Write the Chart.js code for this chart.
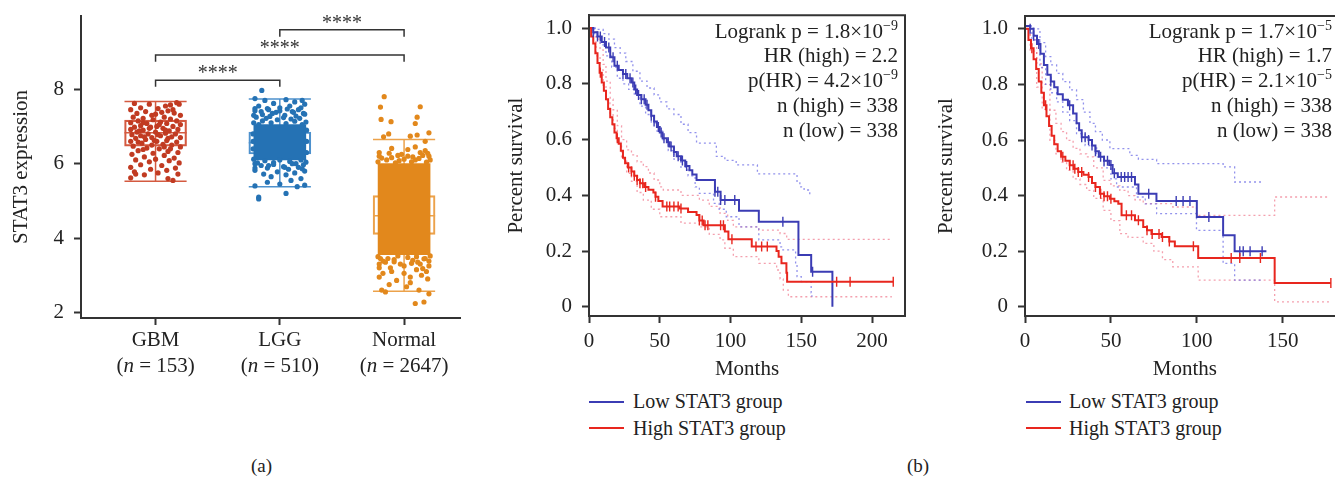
<!DOCTYPE html>
<html>
<head>
<meta charset="utf-8">
<script src="https://cdn.jsdelivr.net/npm/chart.js@4"></script>
<style>
html,body{margin:0;padding:0;background:#fff;overflow:hidden;width:1335px;height:477px;}
body{position:relative;font-family:"Liberation Serif",serif;color:#222;}
canvas{position:absolute;top:0;}
.legline{position:absolute;width:35px;height:2px;}
.legtxt{position:absolute;font-size:20px;line-height:20px;white-space:nowrap;}
.cap{position:absolute;font-size:19px;line-height:19px;}
</style>
</head>
<body>
<canvas id="boxChart" width="470" height="390" style="left:0px"></canvas>
<canvas id="kmChart1" width="420" height="385" style="left:500px"></canvas>
<canvas id="kmChart2" width="421" height="385" style="left:930px"></canvas>

<div class="legline" style="left:589px;top:401px;background:#3b3cb4"></div>
<div class="legtxt" style="left:633px;top:391px">Low STAT3 group</div>
<div class="legline" style="left:589px;top:427px;background:#e8261e"></div>
<div class="legtxt" style="left:633px;top:418px">High STAT3 group</div>
<div class="legline" style="left:1026px;top:401px;background:#3b3cb4"></div>
<div class="legtxt" style="left:1069px;top:391px">Low STAT3 group</div>
<div class="legline" style="left:1026px;top:427px;background:#e8261e"></div>
<div class="legtxt" style="left:1069px;top:418px">High STAT3 group</div>
<div class="cap" style="left:251px;top:456px">(a)</div>
<div class="cap" style="left:907px;top:456px">(b)</div>

<script>
// ---- panel (a): STAT3 expression by group ----
const groups = ['GBM', 'LGG', 'Normal'];
const groupN = [153, 510, 2647];
const groupColors = ['#c13b22', '#2572b4', '#e2881c'];
const boxColors = ['#d45a40', '#4d91cd', '#eca24b'];
const q1 = [6.47, 6.26, 4.10];
const med = [6.83, 6.56, 4.60];
const q3 = [7.17, 6.85, 5.14];
const whiskLow = [5.53, 5.38, 2.57];
const whiskHigh = [7.67, 7.74, 6.65];
// zone where the jittered points merge into a solid blob
const denseLow = [null, 6.1, 3.55];
const denseHigh = [null, 7.05, 6.0];
const yTicksA = [2, 4, 6, 8];

// [offset from category, value]
const gbmPoints = [[-0.17,7.62],[-0.05,7.6],[0.12,7.58],[0.17,7.64],[0.19,7.6],[0.08,7.55],[-0.12,7.5],[0.02,7.48],[0.14,7.45],[-0.2,7.45],[0.1,7.42],[-0.08,7.4],[0.05,7.38],[0.15,7.36],[-0.15,7.35],[0.0,7.33],[0.2,7.3],[-0.03,7.3],
 [-0.18,7.25],[-0.1,7.22],[0.07,7.25],[0.12,7.2],[-0.14,7.15],[-0.02,7.18],[0.17,7.15],[0.04,7.12],[-0.2,7.1],[-0.07,7.08],[0.09,7.08],[0.2,7.05],[-0.12,7.02],[0.01,7.0],[0.14,7.0],[-0.17,6.98],
 [-0.05,6.95],[0.06,6.95],[-0.2,6.92],[0.18,6.92],[-0.1,6.9],[0.11,6.88],[-0.15,6.85],[0.0,6.85],[0.08,6.82],[-0.06,6.8],[0.16,6.8],[-0.19,6.78],[-0.12,6.75],[0.04,6.75],[0.13,6.72],[-0.03,6.7],[0.2,6.7],
 [-0.16,6.68],[-0.08,6.65],[0.09,6.62],[-0.2,6.6],[0.01,6.6],[0.17,6.58],[-0.11,6.55],[0.06,6.52],[-0.03,6.5],[0.13,6.5],[-0.18,6.47],[0.2,6.45],[-0.07,6.42],[0.03,6.4],
 [-0.14,6.35],[0.1,6.33],[0.18,6.3],[-0.02,6.28],[-0.19,6.25],[0.07,6.22],[-0.09,6.18],[0.15,6.15],[0.0,6.12],[-0.16,6.1],[0.11,6.08],[-0.05,6.05],[0.19,6.02],
 [-0.12,5.97],[0.05,5.95],[-0.2,5.9],[0.16,5.88],[-0.04,5.85],[0.09,5.82],[-0.17,5.78],[0.02,5.75],[0.18,5.72],[-0.09,5.7],[-0.2,5.62],[0.1,5.6],[-0.16,5.72],[0.14,5.55],
 [-0.1,7.1],[0.03,7.05],[-0.04,6.98],[0.08,6.9],[-0.13,6.88],[0.02,6.78],[-0.09,6.72],[0.1,6.68],[-0.01,6.62],[-0.14,6.58],[0.07,6.45],[-0.1,6.38],[0.12,6.4]];
const lggPoints = [[-0.145,7.97],[-0.2,7.75],[-0.12,7.7],[0.05,7.72],[0.18,7.7],[0.12,7.66],[-0.05,7.62],[0.2,7.6],[-0.17,7.55],[0.08,7.55],[0.0,7.5],[-0.1,7.48],[0.15,7.45],[-0.2,7.42],[0.1,7.4],[-0.03,7.38],[0.19,7.35],[-0.14,7.32],[0.04,7.3],[-0.21,7.3],[0.13,7.28],[-0.08,7.27],
 [-0.2,7.48],[-0.09,7.45],[0.06,7.47],[0.17,7.5],[-0.15,7.4],[0.0,7.42],[0.11,7.38],[-0.06,7.35],[0.2,7.33],[-0.19,7.25],[-0.11,7.22],[0.03,7.24],[0.09,7.2],[0.16,7.22],[-0.02,7.18],[-0.14,7.15],[0.12,7.14],[0.21,7.12],[-0.21,7.1],[-0.07,7.1],[0.05,7.08],[0.18,7.05],[-0.17,7.05],
 [-0.21,6.12],[-0.12,6.08],[0.0,6.1],[0.08,6.06],[0.17,6.1],[0.21,6.04],[-0.18,6.02],[-0.05,6.03],[0.13,6.0],[-0.09,5.95],[0.04,5.9],[-0.2,5.88],[0.18,5.86],
 [-0.215,6.8],[-0.215,6.4],[0.215,6.6],[0.215,6.3],[0.215,6.9],[-0.215,6.6],
 [-0.2,6.0],[0.1,6.0],[-0.05,5.98],[0.19,5.97],[-0.15,5.95],[0.03,5.92],[0.15,5.9],[-0.1,5.88],[0.07,5.85],[-0.2,5.82],[0.2,5.8],[-0.02,5.78],[0.12,5.75],[-0.13,5.72],[0.05,5.7],[-0.07,5.65],[0.17,5.6],[0.09,5.55],[-0.1,5.5],[0.0,5.45],[0.2,5.42],[-0.2,5.4],[0.14,5.38],[-0.17,5.1],[-0.17,5.05],[0.05,5.2]];
const normalPoints = [[-0.16,7.8],[-0.19,7.52],[0.13,7.53],[-0.185,7.19],[-0.105,7.13],[0.09,7.08],[0.105,7.25],[0.2,6.83],[-0.165,6.72],[-0.124,6.8],[0.05,6.74],[0.105,6.77],[0.17,6.6],[-0.1,6.41],[0.03,6.38],[0.09,6.45],[0.17,6.35],[-0.2,6.2],[-0.02,6.25],[0.2,6.2],[-0.12,6.28],[0.13,6.3],[-0.05,6.22],[0.07,6.18],
 [-0.21,6.05],[-0.14,6.1],[-0.07,6.02],[0.0,6.12],[0.06,6.05],[0.12,6.14],[0.18,6.04],[0.21,6.1],[-0.18,6.15],[-0.1,6.16],[0.03,6.2],[0.15,6.22],[-0.04,6.08],[0.09,6.1],[0.19,6.28],[-0.2,6.3],
 [-0.21,3.5],[-0.13,3.45],[-0.05,3.52],[0.03,3.48],[0.1,3.5],[0.16,3.44],[0.21,3.52],[-0.17,3.38],[-0.08,3.36],[0.06,3.32],[0.13,3.3],[0.2,3.38],[-0.2,3.3],[0.0,3.25],[-0.11,3.2],[0.15,3.18],
 [-0.18,2.6],[-0.15,2.55],[0.02,2.69],[0.09,2.24],[0.16,2.28],[-0.2,2.95],[-0.06,2.86],[0.05,2.95],[0.12,2.6],[0.19,2.9],[-0.2,3.2],[-0.1,3.1],[0.0,3.05],[0.1,3.15],[0.2,3.25],[-0.15,3.35],[-0.03,3.3],[0.07,3.4],[0.17,3.45],[-0.19,3.45],[0.14,3.0],[-0.12,2.75],[0.05,2.8],[0.2,2.5],[-0.08,3.42],[0.11,3.35],[-0.17,3.05],[0.18,3.1]];
const groupPoints = [gbmPoints, lggPoints, normalPoints];

// [group a, group b, bracket level, tick end level]
const brackets = [[0, 1, 8.24, 8.07], [0, 2, 8.92, 8.74], [1, 2, 9.60, 9.41]];
const bracketLabel = '****';

// ---- panel (b): Kaplan-Meier curves, [months, survival] ----
const km1Low = [[0,1],[3,0.985],[6,0.97],[9,0.95],[12,0.93],[15,0.895],[18,0.865],[21,0.85],[24,0.835],[27,0.82],[30,0.805],[32,0.78],[34,0.76],[37,0.745],[40,0.725],[42,0.705],[44,0.685],[46,0.665],[48,0.645],[50,0.625],[52,0.605],[55,0.59],[57,0.575],[60,0.555],[62,0.54],[65,0.525],[68,0.505],[71,0.49],[73,0.475],[76,0.455],[89,0.413],[93,0.383],[106,0.345],[120,0.305],[148,0.186],[157,0.126],[172,0]];
const km1High = [[0,1],[1.5,0.97],[3,0.945],[4.5,0.91],[6,0.875],[7.5,0.84],[9,0.805],[10.5,0.775],[12,0.745],[13.5,0.71],[15,0.68],[16.5,0.655],[18,0.625],[19.5,0.605],[21,0.585],[22.5,0.56],[24,0.535],[25.5,0.515],[27.5,0.5],[30,0.485],[32,0.47],[34,0.455],[36,0.443],[39,0.43],[42,0.42],[45.5,0.41],[47,0.395],[49,0.38],[52,0.36],[64,0.353],[70,0.34],[76,0.329],[78,0.31],[81,0.293],[96,0.27],[98.5,0.242],[115,0.216],[132.5,0.2],[134,0.18],[136,0.156],[139.5,0.122],[140,0.09],[215,0.09]];
const km1LowUp = [[0,1],[6,0.995],[10,0.98],[14,0.96],[18,0.93],[22,0.91],[26,0.88],[31,0.845],[36,0.81],[41,0.785],[46,0.76],[50,0.735],[55,0.71],[60,0.69],[65,0.655],[70,0.625],[76,0.587],[90,0.54],[96,0.525],[104,0.509],[119,0.477],[147,0.45],[149,0.43],[152,0.419],[156,0.395]];
const km1LowDn = [[0,1],[4,0.97],[8,0.94],[12,0.9],[16,0.86],[20,0.82],[24,0.8],[28,0.78],[32,0.76],[36,0.72],[40,0.69],[44,0.66],[48,0.63],[52,0.6],[56,0.56],[60,0.53],[65,0.5],[70,0.47],[75,0.43],[78,0.407],[88,0.371],[92,0.35],[97,0.323],[106,0.287],[120,0.24],[135,0.215],[137,0.204],[146,0.15],[147,0.108],[150,0.09],[157,0.05],[157.5,0.036]];
const km1HighUp = [[0,1],[3,0.99],[5,0.96],[7.8,0.922],[10,0.87],[12,0.81],[15,0.745],[17,0.707],[20,0.65],[23,0.6],[26.6,0.563],[30,0.545],[34,0.52],[38.4,0.503],[42,0.48],[46,0.455],[50,0.43],[52.5,0.419],[65,0.4],[78,0.383],[85,0.36],[92.6,0.335],[98,0.31],[102,0.287],[120,0.275],[135,0.263],[139.7,0.242],[214,0.242]];
const km1HighDn = [[0,1],[3,0.95],[5,0.9],[7.8,0.85],[10,0.79],[12,0.74],[14.8,0.695],[17,0.64],[20,0.59],[23,0.53],[26.6,0.479],[30,0.45],[34,0.41],[38.4,0.383],[44,0.35],[50,0.323],[65,0.3],[78,0.287],[85,0.26],[92.6,0.24],[96,0.21],[102,0.18],[120,0.156],[132.6,0.132],[135,0.1],[137.3,0.06],[140.9,0.036],[214,0.036]];
const km1LowCensor = [3,6,8,11,14,17,20,24,26,29,31,33,35,37,39,41,44,46,49,51,53,56,58,60,63,66,69,89,91,93,96,103,137,158];
const km1HighCensor = [8,20,28,30,32,34,36,38,40,47,55,57,60,63,65,78,80,82,84,93,95,101,118,122,126,175,184.5,215];
const km1Stats = [['Logrank p = 1.8×10', '−9'], ['HR (high) = 2.2', ''], ['p(HR) = 4.2×10', '−9'], ['n (high) = 338', ''], ['n (low) = 338', '']];

const km2Low = [[0,1.01],[3,1.0],[5,0.975],[7,0.945],[9,0.91],[11,0.87],[13,0.835],[15,0.81],[17,0.79],[19,0.765],[22,0.745],[25,0.725],[28,0.695],[30,0.66],[31.5,0.635],[33,0.61],[37,0.6],[39,0.58],[41,0.56],[43,0.54],[46,0.525],[49,0.51],[51,0.48],[54,0.467],[64,0.44],[66,0.407],[76.5,0.381],[100,0.323],[115.3,0.257],[122,0.2],[140.5,0.2]];
const km2High = [[0,1],[2,0.96],[3.5,0.93],[5,0.89],[6.5,0.855],[8,0.81],[9.5,0.77],[11,0.725],[12.5,0.685],[14,0.65],[15.5,0.615],[17,0.585],[19,0.56],[21,0.54],[23.5,0.525],[26,0.509],[28.5,0.497],[31,0.485],[34,0.475],[37,0.467],[39,0.445],[41,0.431],[43.6,0.407],[46,0.398],[49.4,0.389],[52,0.38],[54.3,0.371],[56.2,0.329],[64,0.311],[68.8,0.287],[71,0.275],[73.6,0.262],[79.5,0.251],[84,0.235],[87.2,0.218],[100.8,0.176],[145.3,0.086],[178,0.086]];
const km2LowUp = [[0,1.01],[5,1.0],[8.7,0.95],[12,0.9],[15,0.87],[18.4,0.84],[22,0.81],[26,0.78],[30,0.745],[34,0.7],[37.8,0.66],[41,0.63],[45,0.6],[49.4,0.569],[61,0.545],[66,0.53],[76.6,0.515],[115.3,0.503],[122,0.449],[138.6,0.449]];
const km2LowDn = [[0,1],[4,0.96],[8.7,0.86],[12,0.8],[15,0.77],[18.4,0.737],[22,0.7],[26,0.67],[30,0.623],[35,0.58],[41.7,0.539],[46,0.5],[50,0.46],[53.3,0.431],[64.9,0.395],[70,0.37],[76.6,0.335],[99.8,0.275],[115.3,0.156],[122,0.096],[138.6,0.096]];
const km2HighUp = [[0,1],[3,0.96],[6.8,0.874],[10,0.8],[14.5,0.707],[18,0.66],[21,0.63],[24.2,0.599],[28,0.57],[32,0.55],[35.9,0.539],[40,0.5],[45.5,0.455],[50,0.435],[55.2,0.419],[60,0.4],[64,0.385],[68.8,0.371],[86,0.359],[99.8,0.329],[145.3,0.395],[177.3,0.395]];
const km2HighDn = [[0,1],[3,0.92],[6.8,0.79],[10,0.71],[14.5,0.599],[18,0.55],[21,0.52],[24.2,0.491],[28,0.46],[32,0.44],[35.9,0.419],[40,0.39],[45.5,0.347],[50,0.31],[55.2,0.263],[60,0.25],[68.8,0.228],[75,0.2],[80,0.17],[86,0.144],[100.8,0.096],[145.3,0.018],[177.3,0.018]];
const km2LowCensor = [3,5,8,15,26,33,35,37,39,41,44,46,48,50,52,56,58,60,62,72,88,92,96,107,125,127,131,138];
const km2HighCensor = [4,12,22,26,28,29,31,33,37,41,44,46,48,50,59,62,66,71,74,78,80,84,98,120,125,137,178];
const km2Stats = [['Logrank p = 1.7×10', '−5'], ['HR (high) = 1.7', ''], ['p(HR) = 2.1×10', '−5'], ['n (high) = 338', ''], ['n (low) = 338', '']];

const kmYTicks = [0, 0.2, 0.4, 0.6, 0.8, 1.0];
const kmXTicks = [0, 50, 100, 150, 200];

const FONT = 'Liberation Serif';
const AXIS = '#333';
const BLUE = '#3b3cb4', RED = '#e8261e';
const BLUE_CI = 'rgba(110,110,230,0.75)', RED_CI = 'rgba(236,96,120,0.6)';

Chart.defaults.font.family = FONT;
Chart.defaults.font.size = 20;
Chart.defaults.color = '#222';
Chart.defaults.animation = false;

// box lines (whiskers, caps, median) for one group, broken by nulls
function boxLines(i) {
  const c = i + 1, w = 0.25;
  return [
    {x: c - w, y: whiskHigh[i]}, {x: c + w, y: whiskHigh[i]}, {x: c, y: null},
    {x: c, y: whiskHigh[i]}, {x: c, y: whiskLow[i]}, {x: c, y: null},
    {x: c - w, y: whiskLow[i]}, {x: c + w, y: whiskLow[i]}, {x: c, y: null},
    {x: c - w, y: med[i]}, {x: c + w, y: med[i]}
  ];
}

const boxDatasets = [];
groups.forEach((g, i) => {
  boxDatasets.push({
    type: 'line', data: boxLines(i), borderColor: boxColors[i], borderWidth: 1.5,
    pointRadius: 0, spanGaps: false, order: 3
  });
  boxDatasets.push({
    type: 'scatter', data: groupPoints[i].map(p => ({x: i + 1 + p[0], y: p[1]})),
    backgroundColor: groupColors[i], borderWidth: 0, pointRadius: 2.6, order: 1
  });
});
boxDatasets.push({
  type: 'bar', grouped: false, barThickness: 62, order: 2,
  data: groups.map((g, i) => ({x: i + 1, y: [q1[i], q3[i]]})),
  backgroundColor: 'rgba(0,0,0,0)', borderColor: boxColors, borderWidth: 1.5, borderSkipped: false
});
boxDatasets.push({
  type: 'bar', grouped: false, barThickness: 52, order: 1,
  data: [1, 2].map(i => ({x: i + 1, y: [denseLow[i], denseHigh[i]]})),
  backgroundColor: [groupColors[1], groupColors[2]], borderWidth: 0
});

const boxExtras = {
  id: 'boxExtras',
  afterDraw(chart) {
    const {ctx, scales: {x, y}} = chart;
    ctx.save();
    ctx.strokeStyle = AXIS; ctx.lineWidth = 1.5; ctx.fillStyle = '#333';
    ctx.textAlign = 'center'; ctx.textBaseline = 'alphabetic';
    ctx.font = '20px "' + FONT + '"';
    brackets.forEach(([a, b, lvl, end]) => {
      const xa = x.getPixelForValue(a + 1), xb = x.getPixelForValue(b + 1);
      const yl = y.getPixelForValue(lvl), ye = y.getPixelForValue(end);
      ctx.beginPath();
      ctx.moveTo(xa, ye); ctx.lineTo(xa, yl); ctx.lineTo(xb, yl); ctx.lineTo(xb, ye);
      ctx.stroke();
      ctx.fillText(bracketLabel, (xa + xb) / 2, yl - 1);
    });
    // category labels
    ctx.fillStyle = '#222';
    ctx.textBaseline = 'middle';
    groups.forEach((g, i) => {
      const cx = x.getPixelForValue(i + 1);
      ctx.textAlign = 'center';
      ctx.font = '21px "' + FONT + '"';
      ctx.fillText(g, cx, 340);
      const p1 = '(', p2 = 'n', p3 = ' = ' + groupN[i] + ')';
      const w1 = ctx.measureText(p1).width, w3 = ctx.measureText(p3).width;
      ctx.font = 'italic 21px "' + FONT + '"';
      const w2 = ctx.measureText(p2).width;
      let sx = cx - (w1 + w2 + w3) / 2;
      ctx.textAlign = 'left';
      ctx.font = '21px "' + FONT + '"';
      ctx.fillText(p1, sx, 366);
      ctx.font = 'italic 21px "' + FONT + '"';
      ctx.fillText(p2, sx + w1, 366);
      ctx.font = '21px "' + FONT + '"';
      ctx.fillText(p3, sx + w1 + w2, 366);
    });
    ctx.restore();
  }
};

const axisGrid = {drawOnChartArea: false, offset: false, tickLength: 7, tickWidth: 2, tickColor: AXIS};
const axisBorder = {color: AXIS, width: 2};

new Chart(document.getElementById('boxChart'), {
  type: 'scatter',
  data: {datasets: boxDatasets},
  options: {
    responsive: false, events: [],
    layout: {padding: {top: 16, right: 10, left: 0, bottom: 0}},
    plugins: {legend: {display: false}, tooltip: {enabled: false}},
    scales: {
      x: {
        type: 'linear', min: 0.4, max: 3.45, offset: false,
        afterBuildTicks: s => { s.ticks = [1, 2, 3].map(v => ({value: v})); },
        afterFit: s => { s.height = 72; },
        grid: axisGrid, border: axisBorder,
        ticks: {color: 'rgba(0,0,0,0)'}
      },
      y: {
        min: 1.85, max: 9.97,
        afterBuildTicks: s => { s.ticks = yTicksA.map(v => ({value: v})); },
        afterFit: s => { s.width = 81; },
        grid: axisGrid, border: axisBorder,
        ticks: {padding: 10, color: '#222', font: {size: 21, lineHeight: 0.5}},
        title: {display: true, text: 'STAT3 expression', color: '#222', font: {size: 21}, padding: {top: 9, bottom: 0}}
      }
    }
  },
  plugins: [boxExtras]
});

// ---- KM helpers ----
function stepAt(curve, t) {
  let v = curve[0][1];
  for (const [x, y] of curve) { if (x <= t) v = y; else break; }
  return v;
}
const toXY = arr => arr.map(p => ({x: p[0], y: p[1]}));

function kmDatasets(low, high, lowUp, lowDn, highUp, highDn, lowC, highC) {
  const ci = (d, c) => ({data: toXY(d), showLine: true, stepped: true, borderColor: c, borderWidth: 1.3,
    borderDash: [2, 3], pointRadius: 0, order: 3});
  const main = (d, c) => ({data: toXY(d), showLine: true, stepped: true, borderColor: c, borderWidth: 2,
    pointRadius: 0, order: 2});
  const cens = (ts, curve, c) => ({data: ts.map(t => ({x: t, y: stepAt(curve, t)})), showLine: false,
    pointStyle: 'line', rotation: 90, pointRadius: 5, borderColor: c, borderWidth: 1.4, order: 1});
  return [ci(lowUp, BLUE_CI), ci(lowDn, BLUE_CI), ci(highUp, RED_CI), ci(highDn, RED_CI),
    main(high, RED), main(low, BLUE), cens(highC, high, RED), cens(lowC, low, BLUE)];
}

function statsPlugin(name, lines, rightX) {
  return {
    id: 'kmStats' + name,
    afterDraw(chart) {
      const ctx = chart.ctx;
      const a = chart.chartArea;
      ctx.save();
      // frame around the plot
      ctx.setLineDash([]);
      ctx.strokeStyle = AXIS; ctx.lineWidth = 2;
      ctx.beginPath();
      ctx.rect(a.left, a.top, a.right - a.left, a.bottom - a.top);
      ctx.stroke();
      ctx.fillStyle = '#222';
      ctx.textBaseline = 'alphabetic';
      lines.forEach(([main, sup], i) => {
        const by = 37.7 + i * 24.75;
        ctx.font = '14px "' + FONT + '"';
        const sw = sup ? ctx.measureText(sup).width : 0;
        if (sup) { ctx.textAlign = 'left'; ctx.fillText(sup, rightX - sw, by - 8); }
        ctx.font = '21px "' + FONT + '"';
        ctx.textAlign = 'right';
        ctx.fillText(main, rightX - sw, by);
      });
      ctx.restore();
    }
  };
}

function kmOptions(xMax, yWidth, padTop, padRight) {
  return {
    responsive: false, events: [],
    layout: {padding: {top: padTop, right: padRight, left: 0, bottom: 0}},
    plugins: {legend: {display: false}, tooltip: {enabled: false}},
    scales: {
      x: {
        type: 'linear', min: 0, max: xMax,
        afterBuildTicks: s => { s.ticks = kmXTicks.filter(v => v <= xMax).map(v => ({value: v})); },
        afterFit: s => { s.height = 69; },
        grid: axisGrid, border: axisBorder,
        ticks: {padding: 6, color: '#222', font: {size: 21}},
        title: {display: true, text: 'Months', color: '#222', font: {size: 21}, padding: {top: 0, bottom: 3}}
      },
      y: {
        min: -0.033, max: 1.046,
        afterBuildTicks: s => { s.ticks = kmYTicks.map(v => ({value: v})); },
        afterFit: s => { s.width = yWidth; },
        grid: axisGrid, border: axisBorder,
        ticks: {padding: 10, color: '#222', font: {size: 21, lineHeight: 0.5}, callback: v => v === 0 ? '0' : v.toFixed(1)},
        title: {display: true, text: 'Percent survival', color: '#222', font: {size: 21}, padding: {top: 4, bottom: 0}}
      }
    }
  };
}

new Chart(document.getElementById('kmChart1'), {
  type: 'scatter',
  data: {datasets: kmDatasets(km1Low, km1High, km1LowUp, km1LowDn, km1HighUp, km1HighDn, km1LowCensor, km1HighCensor)},
  options: kmOptions(223.3, 89, 15, 15),
  plugins: [statsPlugin('b1', km1Stats, 398)]
});

new Chart(document.getElementById('kmChart2'), {
  type: 'scatter',
  data: {datasets: kmDatasets(km2Low, km2High, km2LowUp, km2LowDn, km2HighUp, km2HighDn, km2LowCensor, km2HighCensor)},
  options: kmOptions(186, 95, 16, 0),
  plugins: [statsPlugin('b2', km2Stats, 402)]
});
</script>
</body>
</html>
